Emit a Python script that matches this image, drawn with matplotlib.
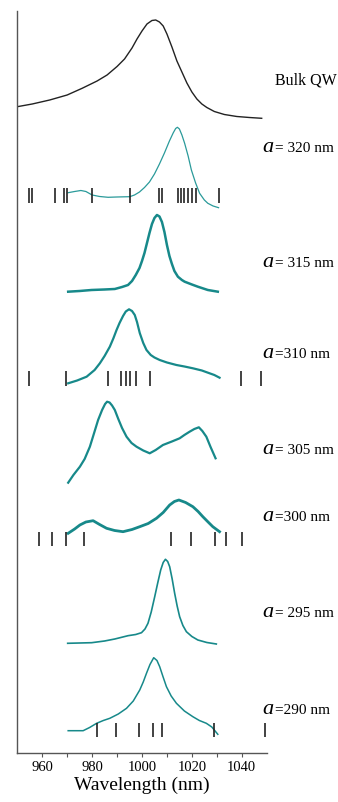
import matplotlib.pyplot as plt

plt.rcParams['font.family'] = ['Liberation Serif', 'DejaVu Serif']

# spectra: wavelength (nm) and stacked height (a.u., offset already included)
bulk_wl = [950, 956, 963, 970, 976, 982, 986, 990, 993, 996, 998, 1000, 1002, 1004,
           1005.5, 1007, 1008.5, 1010, 1012, 1014, 1016, 1018, 1020, 1022, 1024, 1026,
           1029, 1033, 1038, 1043, 1048]
bulk_h = [646.3, 649, 653, 658, 664.7, 672, 678, 686.5, 694, 705, 714, 722, 729, 732.5,
          733, 731, 727, 719, 706, 692, 681, 670, 661, 654, 649, 645.5,
          641.5, 638.5, 636.5, 635.5, 634.7]

a320_wl = [970.4, 973, 975.5, 977.5, 980, 983, 986.4, 990, 995.1, 997, 999, 1001, 1003,
           1005, 1007, 1009, 1011, 1012.5, 1013.5, 1014.2, 1015, 1016, 1017.1, 1018.5,
           1019.8, 1021.5, 1023.1, 1025, 1026.4, 1028.5, 1030.7]
a320_h = [560.3, 561.5, 562.5, 561.5, 558, 556.5, 555.7, 556, 556.3, 558, 561, 565.5, 571,
          579, 589, 600, 612, 620, 624.5, 625.7, 624, 618, 609.7, 597,
          583, 570, 559.7, 553, 549.7, 547, 545.3]

a315_wl = [970.4, 975, 979.8, 985, 989.1, 992, 994.4, 996, 997.5, 999, 1000, 1001, 1002,
           1003, 1004, 1005, 1006, 1007, 1008, 1009, 1010, 1011, 1012, 1013, 1014.4,
           1016, 1017.1, 1020, 1022.4, 1026.4, 1030.4]
a315_h = [461.3, 462, 463, 463.5, 464, 466, 468, 472, 478, 485, 492, 500, 510,
          520, 529, 535, 538, 536.5, 531, 521, 508, 497, 489, 482, 476.3,
          473, 471.3, 468.5, 466.3, 463, 461.3]

a310_wl = [970.4, 974, 977.8, 981, 983.1, 985, 987.1, 988.5, 989.8, 991, 992.4, 993.5,
           994.8, 996, 997.1, 998, 999.1, 1000.5, 1001.8, 1003.5, 1005, 1007.1, 1010,
           1013.8, 1017, 1020.4, 1024, 1027.1, 1029, 1031.1]
a310_h = [369.7, 372.5, 376.3, 383, 389.7, 397, 406.3, 414.5, 423, 430, 437, 441.5,
          443.7, 442, 438, 431, 420, 410, 403, 398, 395.5, 393, 390.5,
          388, 386.5, 384.7, 382.5, 379.7, 378, 375.3]

a305_wl = [970.4, 972.5, 975.1, 977, 979.1, 980.8, 982.4, 984, 985.2, 986, 987, 988,
           989.1, 990.5, 992, 993.8, 995.8, 997.8, 1000.5, 1003.1, 1005.5, 1008.4, 1012,
           1015.1, 1017, 1019.1, 1021, 1022.8, 1024.2, 1025.8, 1027.5, 1029.5]
a305_h = [270.3, 278, 286.3, 294, 306.3, 320, 333, 343, 349, 351.3, 350.5, 347.5,
          343, 334, 325, 316.3, 310, 306.3, 302.5, 299.7, 303, 308, 311.5,
          314.7, 318, 321.3, 324, 325.7, 322, 316.3, 306, 294.7]

a300_wl = [970.4, 973, 975.1, 977.5, 980.4, 983, 985.8, 989, 992.4, 996, 999.1, 1002.5,
           1005.8, 1008.5, 1011.1, 1013, 1014.8, 1017.5, 1020.4, 1022.5, 1024.4, 1026.5,
           1028.4, 1031.1]
a300_h = [219.7, 224, 228, 231, 232.3, 228.5, 224.7, 222.5, 221.3, 223.5, 226.3, 229.5,
          234.7, 240.5, 248, 251.5, 253, 250.5, 246.3, 241.5, 236.3, 231,
          226.3, 221.3]

a295_wl = [970.2, 975, 979.8, 985, 989.1, 994.4, 997.5, 999.8, 1001.2, 1002.4, 1003.7,
           1005.1, 1006.3, 1007.5, 1008.5, 1009.4, 1010.3, 1011.1, 1012.1, 1013.1, 1014.1,
           1015.1, 1016.4, 1017.8, 1020, 1022.4, 1026, 1029.8]
a295_h = [109.7, 110, 110.3, 112, 114, 117.3, 118.5, 120.3, 124, 129.7, 141,
          156.3, 170, 183, 190.5, 193.7, 191.5, 186.3, 174, 159.7, 147,
          136.3, 127.5, 121.3, 116.5, 113, 110.5, 109]

a290_wl = [970.4, 976.4, 979, 981.8, 984.5, 987.1, 990.5, 993.8, 996.5, 999.1, 1000.5,
           1001.8, 1003.2, 1004.7, 1006, 1007.1, 1008.4, 1009.8, 1011.7, 1013.8, 1017,
           1020.4, 1023, 1025.8, 1028, 1030.4]
a290_h = [22.3, 22.3, 25.5, 29.7, 32.5, 34.7, 39, 44.7, 52, 63, 71,
          79.7, 88.5, 95.3, 92.5, 86.3, 76.5, 66.3, 57, 49.7, 42,
          36.3, 32.5, 29.7, 26, 18.7]

# calculated mode positions (nm) with the height span of their marker bars
modes_320 = [954.7, 956, 965, 968.8, 970, 980, 995, 1006.7, 1008, 1014.4, 1015.7,
             1017, 1018.4, 1020, 1021.7, 1030.7]
modes_310 = [954.8, 969.4, 986.4, 991.5, 993.4, 995.2, 997.4, 1003.1, 1039.8, 1047.8]
modes_300 = [958.7, 964, 969.4, 976.7, 1011.8, 1019.5, 1029.1, 1033.8, 1040.2]
modes_290 = [982, 989.4, 998.8, 1004.6, 1007.9, 1028.8, 1049.4]
mode_spans = [(550, 565), (367, 382.3), (207, 221.3), (16.3, 30)]

label_text = ['= 320 nm', '= 315 nm', '=310 nm', '= 305 nm', '=300 nm', '= 295 nm', '=290 nm']
label_h = [605, 490, 399, 303, 236, 140, 43]

teal = '#17898a'

fig = plt.figure(figsize=(3.38, 8.02), dpi=100)
ax = fig.add_axes([0.0512, 0.0611, 0.7378, 0.9252])

ax.plot(bulk_wl, bulk_h, color='#222222', lw=1.0)
ax.plot(a320_wl, a320_h, color='#2a9a9a', lw=0.9)
ax.plot(a315_wl, a315_h, color=teal, lw=1.8)
ax.plot(a310_wl, a310_h, color=teal, lw=1.6)
ax.plot(a305_wl, a305_h, color=teal, lw=1.6)
ax.plot(a300_wl, a300_h, color=teal, lw=2.0)
ax.plot(a295_wl, a295_h, color=teal, lw=1.2)
ax.plot(a290_wl, a290_h, color=teal, lw=1.1)

for modes, (lo, hi) in zip([modes_320, modes_310, modes_300, modes_290], mode_spans):
    ax.vlines(modes, lo, hi, color='#222222', lw=1.2, clip_on=False)

# labels on the right
ax.text(1053.2, 672 - 4, 'Bulk QW', fontsize=11.5, va='baseline', ha='left', clip_on=False)
for txt, h in zip(label_text, label_h):
    ax.text(1048.2, h - 4, 'a', fontsize=16, style='italic', va='baseline', ha='left',
            clip_on=False)
    ax.text(1053.3, h - 4, txt, fontsize=11, va='baseline', ha='left', clip_on=False)

ax.set_xlim(950, 1050)
ax.set_ylim(0, 742)
ax.set_xticks([960, 980, 1000, 1020, 1040])
ax.set_xticks([970, 990, 1010, 1030], minor=True)
ax.tick_params(axis='x', which='both', direction='out', length=3, width=0.8,
               color='#555555', labelsize=10.5, pad=3)
ax.set_yticks([])
for side in ['top', 'right']:
    ax.spines[side].set_visible(False)
for side in ['left', 'bottom']:
    ax.spines[side].set_color('#555555')
    ax.spines[side].set_linewidth(1.0)
ax.set_xlabel('Wavelength (nm)', fontsize=14, labelpad=2)

fig.savefig('out.png', dpi=100)
